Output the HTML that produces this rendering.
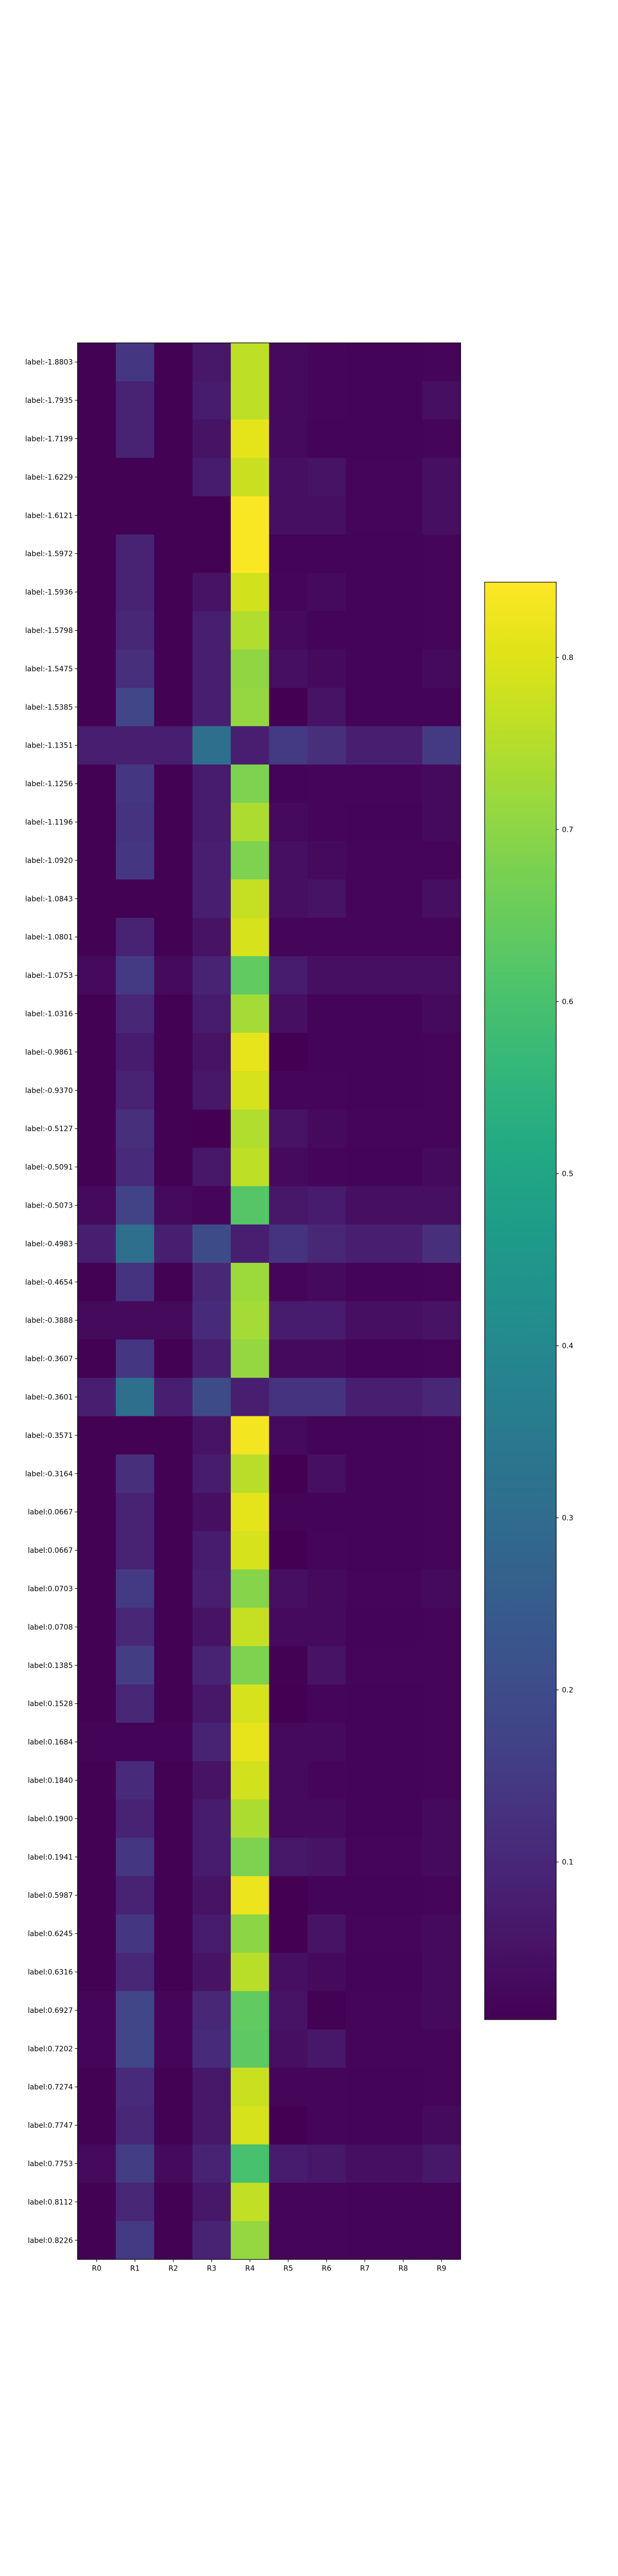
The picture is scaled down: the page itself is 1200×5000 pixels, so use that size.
<!DOCTYPE html>
<html><head><meta charset="utf-8"><style>
html,body{margin:0;padding:0;background:#fff;}
svg{display:block;font-family:"DejaVu Sans","Liberation Sans",sans-serif;}
</style></head>
<body>
<svg id="chart" width="1200" height="5000" xmlns="http://www.w3.org/2000/svg">
<defs>
<linearGradient id="vir" x1="0" y1="1" x2="0" y2="0"></linearGradient>
</defs>
<g id="cells"></g>
<g id="yaxis"></g>
<g id="xaxis"></g>
<rect x="150.5" y="665.5" width="744" height="3720" fill="none" stroke="#000" stroke-width="1.2"/>
<g id="cbar"></g>
</svg>
<script>
const rowLabels = ["label:-1.8803","label:-1.7935","label:-1.7199","label:-1.6229","label:-1.6121","label:-1.5972","label:-1.5936","label:-1.5798","label:-1.5475","label:-1.5385","label:-1.1351","label:-1.1256","label:-1.1196","label:-1.0920","label:-1.0843","label:-1.0801","label:-1.0753","label:-1.0316","label:-0.9861","label:-0.9370","label:-0.5127","label:-0.5091","label:-0.5073","label:-0.4983","label:-0.4654","label:-0.3888","label:-0.3607","label:-0.3601","label:-0.3571","label:-0.3164","label:0.0667","label:0.0667","label:0.0703","label:0.0708","label:0.1385","label:0.1528","label:0.1684","label:0.1840","label:0.1900","label:0.1941","label:0.5987","label:0.6245","label:0.6316","label:0.6927","label:0.7202","label:0.7274","label:0.7747","label:0.7753","label:0.8112","label:0.8226"];
const colLabels = ["R0","R1","R2","R3","R4","R5","R6","R7","R8","R9"];
const values = [
[.01,.14,.01,.06,.76,.03,.02,.015,.015,.02],
[.01,.09,.01,.07,.76,.03,.02,.015,.015,.04],
[.01,.09,.01,.05,.81,.03,.015,.015,.015,.02],
[.01,.01,.01,.07,.775,.04,.05,.02,.02,.04],
[.01,.01,.01,.01,.84,.04,.04,.02,.02,.04],
[.01,.09,.01,.01,.84,.015,.015,.015,.015,.02],
[.01,.09,.01,.05,.785,.02,.03,.015,.015,.02],
[.01,.10,.01,.08,.745,.03,.015,.015,.015,.02],
[.01,.12,.01,.08,.705,.04,.03,.015,.015,.03],
[.01,.18,.01,.08,.71,.005,.05,.015,.015,.015],
[.08,.08,.08,.31,.08,.15,.12,.08,.08,.15],
[.01,.14,.01,.07,.68,.015,.02,.02,.02,.03],
[.01,.13,.01,.07,.74,.03,.02,.015,.015,.03],
[.01,.14,.01,.08,.68,.04,.03,.02,.02,.02],
[.01,.01,.01,.08,.77,.04,.05,.02,.02,.04],
[.01,.09,.01,.05,.79,.02,.02,.02,.02,.02],
[.03,.15,.03,.09,.64,.07,.04,.04,.04,.04],
[.01,.10,.01,.07,.73,.04,.015,.015,.015,.03],
[.01,.07,.01,.05,.815,.005,.015,.015,.015,.02],
[.01,.09,.01,.06,.79,.02,.02,.015,.015,.02],
[.01,.12,.01,.005,.745,.05,.03,.02,.02,.02],
[.01,.11,.01,.06,.76,.03,.02,.015,.015,.03],
[.03,.17,.03,.02,.62,.06,.07,.04,.04,.04],
[.08,.31,.08,.20,.08,.13,.10,.08,.08,.12],
[.01,.13,.01,.10,.72,.02,.03,.015,.015,.02],
[.03,.03,.03,.11,.73,.07,.07,.04,.04,.05],
[.01,.14,.01,.08,.71,.03,.03,.015,.015,.02],
[.08,.31,.08,.20,.08,.13,.13,.08,.08,.10],
[.01,.01,.01,.05,.83,.03,.015,.015,.015,.02],
[.01,.12,.01,.07,.755,.005,.04,.015,.015,.02],
[.01,.09,.01,.04,.81,.015,.015,.015,.015,.02],
[.01,.09,.01,.07,.79,.005,.02,.015,.015,.02],
[.01,.15,.01,.08,.69,.04,.03,.02,.02,.03],
[.01,.10,.01,.05,.77,.03,.03,.015,.015,.02],
[.01,.16,.01,.09,.68,.01,.05,.02,.02,.02],
[.01,.10,.01,.06,.79,.005,.02,.015,.015,.02],
[.015,.015,.015,.09,.815,.03,.03,.015,.015,.02],
[.01,.11,.01,.05,.785,.03,.02,.015,.015,.02],
[.01,.09,.01,.07,.74,.03,.03,.015,.015,.03],
[.01,.14,.01,.07,.68,.06,.05,.02,.02,.03],
[.01,.09,.01,.05,.82,.005,.015,.015,.015,.02],
[.01,.14,.01,.07,.70,.005,.05,.02,.02,.03],
[.01,.10,.01,.05,.755,.04,.03,.015,.015,.03],
[.02,.18,.02,.10,.64,.05,.01,.02,.02,.03],
[.02,.18,.02,.11,.635,.04,.06,.02,.02,.02],
[.01,.11,.01,.06,.775,.02,.02,.015,.015,.02],
[.01,.10,.01,.06,.79,.005,.02,.015,.015,.03],
[.03,.16,.03,.09,.60,.07,.06,.04,.04,.06],
[.01,.10,.01,.06,.765,.02,.02,.015,.015,.015],
[.01,.15,.01,.09,.71,.02,.02,.015,.015,.015]
];
const cbarTicks = [0.1,0.2,0.3,0.4,0.5,0.6,0.7,0.8];
const vmin = 0.0084, vmax = 0.8437;

const VIR = ["#440154","#471365","#482475","#463480","#414487","#3b528b","#355f8d","#2f6c8e","#2a788e","#25848e","#21918c","#1e9c89","#22a884","#2fb47c","#44bf70","#5ec962","#7ad151","#9bd93c","#bddf26","#dfe318","#fde725"];
function hex(h){return [1,3,5].map(i=>parseInt(h.substr(i,2),16));}
function viridis(t){t=Math.max(0,Math.min(1,t));const p=t*(VIR.length-1);const i=Math.min(Math.floor(p),VIR.length-2);const f=p-i;const a=hex(VIR[i]),b=hex(VIR[i+1]);return "rgb("+a.map((v,k)=>Math.round(v+(b[k]-v)*f)).join(",")+")";}
function color(v){return viridis((v-vmin)/(vmax-vmin));}

const NS="http://www.w3.org/2000/svg";
const X0=150.5, Y0=665.5, CW=74.4, RH=74.4;
function xPos(c){return X0+c*CW;}
function yPos(r){return Y0+r*RH;}
function mk(tag,attrs,parent){const e=document.createElementNS(NS,tag);for(const k in attrs)e.setAttribute(k,attrs[k]);parent.appendChild(e);return e;}

const cells=document.getElementById('cells');
values.forEach((row,r)=>row.forEach((v,c)=>{
  const e=mk('rect',{x:xPos(c),y:yPos(r),width:CW+0.5,height:RH+0.5,fill:color(v)},cells);
  
  
}));
const ya=document.getElementById('yaxis');
rowLabels.forEach((l,r)=>{
  const y=yPos(r)+RH/2;
  const t=mk('line',{x1:X0-5,x2:X0,y1:y,y2:y,stroke:'#000','stroke-width':1.1},ya);
  
  
  const tx=mk('text',{x:X0-9,y:y+5,'text-anchor':'end','font-size':14,fill:'#000'},ya);
  tx.textContent=l;
  
  
});
const xa=document.getElementById('xaxis');
const YB=Y0+50*RH;
colLabels.forEach((l,c)=>{
  const x=xPos(c)+CW/2;
  const t=mk('line',{x1:x,x2:x,y1:YB,y2:YB+5,stroke:'#000','stroke-width':1.1},xa);
  
  
  const tx=mk('text',{x:x,y:YB+22,'text-anchor':'middle','font-size':14,fill:'#000'},xa);
  tx.textContent=l;
  
  
});
// colorbar
const grad=document.getElementById('vir');
VIR.forEach((c,i)=>{mk('stop',{offset:(i/(VIR.length-1)),'stop-color':c},grad);});
const cb=document.getElementById('cbar');
const CBX=941, CBT=1130, CBB=3920, CBW=139;
function cbY(v){return CBB-(v-vmin)/(vmax-vmin)*(CBB-CBT);}
const g=mk('rect',{x:CBX,y:CBT,width:CBW,height:CBB-CBT,fill:'url(#vir)',stroke:'#000','stroke-width':1.2},cb);


cbarTicks.forEach(v=>{
  const y=cbY(v);
  const t=mk('line',{x1:CBX+CBW,x2:CBX+CBW+5,y1:y,y2:y,stroke:'#000','stroke-width':1.1},cb);
  
  
  const tx=mk('text',{x:CBX+CBW+11,y:y+5,'font-size':14,fill:'#000'},cb);
  tx.textContent=v.toFixed(1);
  
  
});
</script>
</body></html>
